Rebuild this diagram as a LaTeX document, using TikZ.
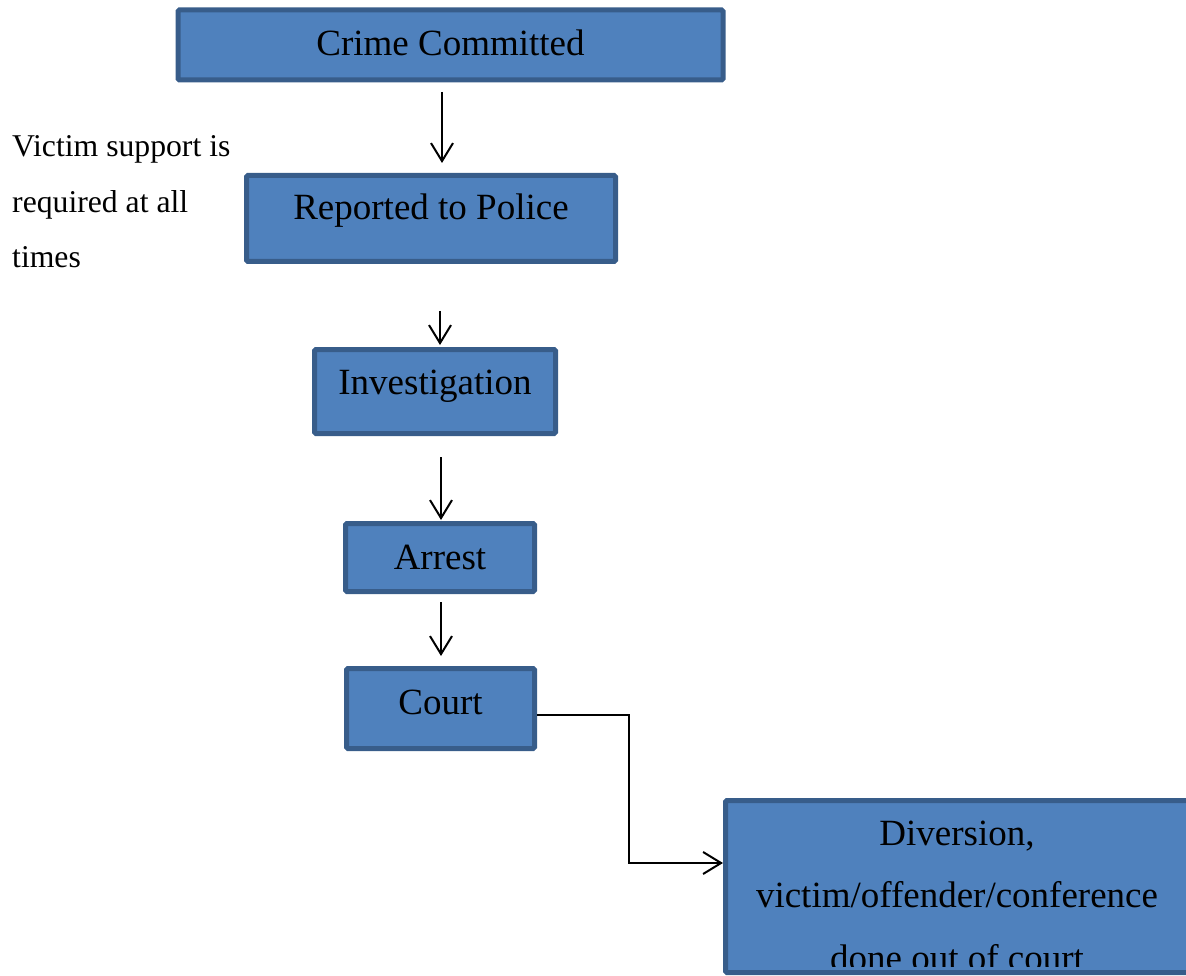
\documentclass[tikz,border=0pt]{standalone}
\usepackage{fontspec}
\setmainfont{Liberation Serif}
\usetikzlibrary{arrows.meta}
\definecolor{boxfill}{HTML}{4F81BD}
\definecolor{boxline}{HTML}{385D8A}
\tikzset{
  flowbox/.style={rectangle, draw=boxline, fill=boxfill, line width=5pt, rounded corners=1.5pt, inner sep=0pt},
  boxtext/.style={anchor=base, inner sep=0pt, font=\fontsize{37}{44}\selectfont},
  conn/.style={draw=black, line width=2pt, -{Straight Barb[length=18pt,width=22pt,line width=2pt]}},
}
\begin{document}
\begin{tikzpicture}[x=1pt,y=-1pt]
\useasboundingbox (0,0) rectangle (1186,976);
\clip (0,0) rectangle (1186,976);
% boxes
\node[flowbox, minimum width=545pt, minimum height=70pt] (cc) at (450.5,45) {};
\node[flowbox, minimum width=369pt, minimum height=86pt] (rp) at (431,218.5) {};
\node[flowbox, minimum width=241pt, minimum height=84pt] (inv) at (435,391.5) {};
\node[flowbox, minimum width=189pt, minimum height=68pt] (arr) at (440,557.5) {};
\node[flowbox, minimum width=188pt, minimum height=80pt] (crt) at (440.5,708.5) {};
\node[flowbox, minimum width=474.5pt, minimum height=172pt] (div) at (962.75,886.5) {};
% box texts
\node[boxtext] (tcc) at (450.5,56) {Crime Committed};
\node[boxtext] (trp) at (431,220) {Reported to Police};
\node[boxtext] (tinv) at (435,394) {Investigation};
\node[boxtext] (tarr) at (440,569) {Arrest};
\node[boxtext] (tcrt) at (440.5,714) {Court};
\begin{scope}
\clip (723,798) rectangle (1186,966);
\node[boxtext, align=center, font=\fontsize{37}{62.7}\selectfont] (tdiv) at (957,970.4) {Diversion,\\ victim/offender/conference\\ done out of court};
\end{scope}
% side note
\node[anchor=base west, inner sep=0pt, align=left, font=\fontsize{31.7}{55.5}\selectfont] (note) at (12,268) {Victim support is\\ required at all\\ times};
% connectors
\draw[conn] ([xshift=-8.5pt,yshift=-9.5pt]cc.south) -- ([xshift=11pt,yshift=10pt]rp.north);
\draw[conn] ([xshift=9pt,yshift=-47pt]rp.south) -- ([xshift=5pt,yshift=2pt]inv.north);
\draw[conn] ([xshift=6pt,yshift=-21pt]inv.south) -- ([xshift=1pt,yshift=1pt]arr.north);
\draw[conn] ([xshift=1pt,yshift=-8pt]arr.south) -- ([xshift=0.5pt,yshift=10pt]crt.north);
\draw[conn] ([yshift=-6.5pt]crt.east) -- ++(92,0) |- ([yshift=23.5pt]div.west);
\end{tikzpicture}
\end{document}
